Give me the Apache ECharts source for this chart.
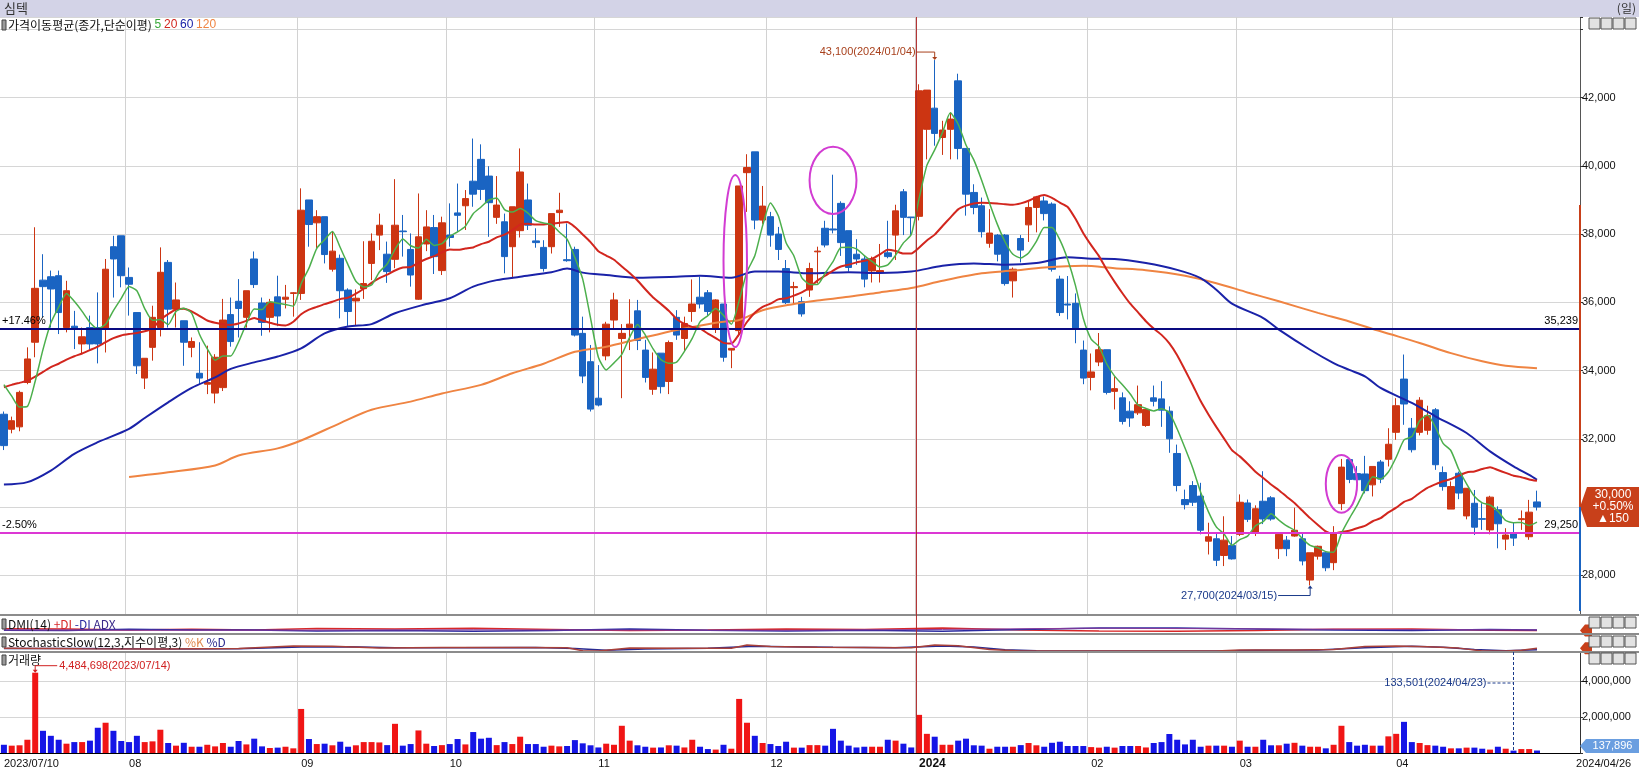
<!DOCTYPE html>
<html><head><meta charset="utf-8">
<script src="https://cdn.jsdelivr.net/npm/echarts@6/dist/echarts.min.js"></script>
<style>html,body{margin:0;padding:0;background:#fff}#c{width:1639px;height:772px}</style>
</head><body><div id="c"></div><script>
// ---------- DATA ----------
const tradingDays = [
 ['2023/07', [10,11,12,13,14,17,18,19,20,21,24,25,26,27,28,31]],
 ['2023/08', [1,2,3,4,7,8,9,10,11,14,16,17,18,21,22,23,24,25,28,29,30,31]],
 ['2023/09', [1,4,5,6,7,8,11,12,13,14,15,18,19,20,21,22,25,26,27]],
 ['2023/10', [4,5,6,10,11,12,13,16,17,18,19,20,23,24,25,26,27,30,31]],
 ['2023/11', [1,2,3,6,7,8,9,10,13,14,15,16,17,20,21,22,23,24,27,28,29,30]],
 ['2023/12', [1,4,5,6,7,8,11,12,13,14,15,18,19,20,21,22,26,27,28]],
 ['2024/01', [2,3,4,5,8,9,10,11,12,15,16,17,18,19,22,23,24,25,26,29,30,31]],
 ['2024/02', [1,2,5,6,7,8,13,14,15,16,19,20,21,22,23,26,27,28,29]],
 ['2024/03', [4,5,6,7,8,11,12,13,14,15,18,19,20,21,22,25,26,27,28,29]],
 ['2024/04', [1,2,3,4,5,8,9,11,12,15,16,17,18,19,22,23,24,25,26]]
];
const opens = [32720,32280,32350,33650,34830,36650,36750,36780,35260,35300,
34780,35260,35260,35220,37630,37950,36730,35700,33780,34680,
35260,37170,35800,35460,34680,33920,33600,33340,33500,35640,
36030,35560,37270,35980,35560,36160,36090,36260,36260,39000,
38330,38510,36970,37290,36360,36040,36400,37140,37970,37410,
37260,38090,37550,36090,37710,38190,36930,37970,38620,38830,
39550,40190,39700,38490,38360,37630,38100,39000,37800,37610,
37630,38630,37250,37550,35090,34260,33190,34430,35480,34940,
35260,35750,34600,33450,34510,33680,35560,34940,35730,36150,
36280,35210,35950,34600,35170,39800,40410,38410,38510,38000,
36990,36430,36020,36360,37480,38170,38150,38900,38100,37410,
37270,36920,36880,37450,37970,39240,38500,38520,41070,41690,
40830,41070,42490,40510,39220,38830,37730,37970,37970,36630,
37870,38270,38780,38970,38880,36680,35950,35970,34600,33800,
34250,34610,33390,33200,32810,32760,32390,33200,33170,32810,
31570,30220,30630,30320,29000,29070,28580,28870,29200,30120,
29240,30170,30270,28780,29030,29150,29070,27860,28560,28660,
28370,30100,31390,30980,30970,30650,31320,31400,32190,33750,
32310,32190,32250,32850,31010,29940,30990,29740,30110,29660,
29330,29920,29060,29250,29630,29130,30150];
const highs = [32800,32650,33410,34680,38200,37410,36930,36930,36630,35750,
35260,35610,36290,37270,37950,37950,37020,35700,34360,35900,
37610,37240,36580,35460,34970,34830,34730,34480,36100,36140,
36680,36340,37490,36140,36100,36780,36510,36300,39340,39000,
38700,38510,38070,37400,36410,36380,37790,38020,38600,37780,
39610,38560,38020,39190,38700,38560,38510,38900,39480,39290,
40800,40630,39990,39700,38600,38800,40510,39480,38170,37820,
38600,39210,38310,37630,35580,34750,34160,35430,36280,35360,
36090,36070,34900,34530,34510,34880,35770,35580,36670,36750,
36360,36090,35950,34650,39410,40340,40410,39410,38650,38210,
37240,36600,36160,37160,37630,38390,39740,38960,38100,37850,
37360,37340,37710,38390,38860,39320,38500,42390,42220,43100,
41320,41560,42700,40510,39460,39070,38730,38000,38000,37020,
37970,38960,39120,39100,38930,36780,36770,36260,34880,34500,
35100,34610,33830,33360,33100,33560,32860,33560,33690,32950,
31830,30510,30760,30710,29540,29240,29730,29150,30370,30220,
30050,31050,30320,29240,29150,29980,29240,28660,28870,28710,
29440,31410,31440,31200,31500,31190,31380,32310,33190,34470,
32610,33220,32970,32900,31190,30750,31040,30550,30500,30110,
30330,30020,29380,29550,29900,30210,30480];
const lows = [31670,32160,32220,33600,34390,35560,35260,35070,35120,34630,
34480,34600,34210,34530,36140,36440,35610,33900,33460,34290,
35000,35260,35260,34140,34390,33600,33310,33040,33400,34700,
34970,35260,36420,35020,35120,35300,35820,35580,36070,37630,
37580,37140,36900,35530,35310,35310,36100,36650,37530,36570,
37000,37340,36460,36070,37500,36830,36800,37630,38070,38120,
38800,39000,37920,38300,36850,36700,37900,38120,37600,36900,
37430,38210,37190,35000,33630,32800,32950,34300,35190,33190,
34600,34600,33650,33290,33330,33310,34900,34550,35430,35820,
35600,35100,34260,34070,35000,38650,38140,38300,37630,37240,
35950,35920,35580,36160,36550,37610,38020,37360,36900,37100,
36440,36580,36580,37290,37240,37970,37950,38400,40190,40590,
40320,40190,40190,38540,38580,37900,37600,37200,36490,36140,
37170,37770,38050,38400,36900,35600,35500,34800,33600,33420,
34130,33300,32860,32420,32350,32700,32350,32950,32350,31590,
30460,29930,30030,29200,28610,28270,28270,28460,29150,29560,
29150,29500,29600,28480,28560,29130,28290,27700,28460,28120,
28150,29910,30700,30700,30400,30310,30700,31190,31970,32410,
31600,32100,32120,31090,30480,29940,30230,29640,29180,29330,
29200,28790,28740,28860,29330,29040,29900];
const closes = [31800,32530,33360,34340,36410,36460,36390,35700,36340,35250,
34990,34780,34780,36970,37270,36780,36530,34140,34360,35560,
36880,35800,36070,34830,34850,33780,33650,34390,35480,34850,
35820,36340,36520,35410,36000,35600,36150,36280,38700,38280,
38510,37400,37500,36340,35730,36120,36550,37790,38260,36900,
38260,38070,36800,37920,38210,37340,38330,37900,38550,39040,
39170,39310,38920,38850,37340,38800,39820,38260,37750,36990,
38600,38700,37220,35040,33840,32870,32990,35360,36070,35090,
35360,34880,33800,34040,33530,34820,35040,35380,35950,35950,
35730,36070,34390,34650,39410,39950,38410,38820,37970,37550,
35990,36460,35660,36990,37500,37680,38120,37750,37020,37270,
36680,37270,36930,37340,38680,38490,38480,42200,42220,40950,
41050,41370,40510,39170,38780,38070,38030,37410,36550,36970,
37530,38780,39090,38600,36970,35700,35920,35250,33780,33960,
34610,33360,33470,32510,32610,33000,32860,33100,32840,32000,
30630,30070,30140,29320,29130,28440,29030,28480,30140,29640,
29950,29650,29650,29200,28780,29320,28420,28660,28850,28220,
29240,31170,30810,30800,30480,31190,30820,31840,32970,33020,
31680,33130,32680,31240,30600,30600,30410,30550,29410,29640,
30290,29510,29180,29090,29660,29850,30000];
const volumes = [460000,410000,430000,740000,4484698,1240000,960000,740000,520000,610000,
610000,690000,1410000,1690000,1240000,670000,610000,960000,610000,650000,
1300000,560000,410000,570000,350000,350000,460000,370000,560000,350000,
670000,480000,800000,370000,280000,300000,350000,260000,2460000,780000,
500000,520000,430000,630000,350000,430000,610000,610000,590000,440000,
1630000,410000,500000,1260000,520000,390000,440000,500000,780000,480000,
1170000,800000,850000,440000,610000,500000,910000,500000,500000,350000,
410000,370000,390000,720000,540000,430000,310000,520000,460000,1520000,
690000,430000,350000,300000,310000,430000,410000,310000,740000,350000,
220000,190000,460000,240000,3020000,1690000,960000,560000,500000,390000,
630000,300000,300000,440000,440000,410000,1350000,690000,410000,310000,
350000,350000,350000,740000,690000,520000,310000,2130000,1070000,910000,
460000,460000,690000,800000,430000,410000,240000,350000,350000,350000,
440000,560000,430000,350000,570000,630000,390000,390000,390000,330000,
300000,350000,300000,390000,390000,390000,310000,560000,610000,1060000,
740000,480000,740000,350000,410000,410000,410000,350000,690000,350000,
350000,740000,430000,430000,520000,570000,410000,350000,350000,260000,
460000,1520000,610000,410000,460000,410000,410000,930000,1070000,1740000,
610000,560000,440000,410000,350000,260000,260000,300000,300000,240000,
190000,350000,240000,133501,220000,220000,137896];
// moving-average values before enough in-chart history exists
const ma5Lead = [33590, 33250, 32930, 32950];
const ma20Lead = [33510,33580,33640,33700,33820,33960,34100,34200,34320,34420,
34500,34600,34700,34830,34950,35030,35070,35100,35150];
// MA60 / MA120: [trading-day index, value]
const ma60Read = [[0,30660],[3,30730],[6,31070],[9,31560],[12,31900],[16,32290],[18,32610],[21,33070],[24,33490],[27,33800],[29,34050],[32,34240],[35,34410],[38,34650],[41,35090],[44,35290],[47,35360],[50,35680],[54,35950],[57,36120],[60,36460],[63,36650],[66,36750],[70,36880],[72,36990],[74,36870],[77,36800],[81,36720],[86,36750],[89,36780],[93,36720],[96,36900],[99,36900],[103,36850],[108,36880],[112,36860],[116,36900],[120,37070],[124,37140],[128,37100],[132,37150],[136,37320],[139,37280],[142,37270],[146,37150],[150,36950],[153,36710],[155,36370],[157,35960],[161,35540],[163,35200],[167,34610],[170,34220],[172,34020],[174,33830],[176,33490],[180,33050],[183,32660],[187,32170],[190,31630],[193,31190],[195,30940],[196,30800]];
const ma120Read = [[16,30880],[21,31020],[27,31220],[30,31510],[35,31720],[38,31950],[43,32460],[47,32850],[52,33090],[56,33330],[61,33580],[65,33920],[69,34200],[73,34550],[77,34700],[81,34920],[86,35190],[90,35360],[92,35430],[94,35480],[97,35770],[101,35950],[104,36050],[108,36160],[112,36290],[116,36420],[120,36630],[125,36850],[129,36930],[133,37020],[138,37070],[142,37000],[146,36940],[151,36780],[155,36560],[159,36290],[163,36030],[168,35690],[172,35440],[176,35150],[181,34810],[185,34510],[189,34270],[192,34140],[196,34070]];
// DMI(14) and Stochastic panes, rough reads [index, value]
const plusDI = [[0,25],[8,24],[16,18],[24,22],[32,18],[40,26],[50,24],[60,28],[70,20],[80,14],[90,18],[100,24],[110,20],[120,30],[130,18],[140,12],[150,10],[160,14],[170,22],[180,24],[190,16],[196,14]];
const minusDI = [[0,16],[8,15],[16,22],[24,18],[32,18],[40,12],[50,14],[60,10],[70,14],[80,24],[90,16],[100,12],[110,16],[120,10],[130,20],[140,30],[150,30],[160,24],[170,18],[180,14],[190,20],[196,18]];
const adxLine = [[0,18],[20,16],[40,17],[60,19],[80,17],[100,16],[120,21],[138,28],[141,28],[160,24],[180,20],[196,18]];
const stochK = [[0,17],[10,14],[20,12],[30,15],[37,31],[42,29],[48,18],[56,22],[66,22],[72,20],[74,2],[76,0],[80,18],[88,17],[93,17],[95,37],[98,28],[104,24],[110,22],[116,20],[119,37],[122,33],[126,10],[130,0],[135,0],[145,0],[155,0],[158,6],[165,6],[170,10],[174,28],[178,31],[182,27],[186,18],[189,0],[192,0],[194,5],[196,17]];
const stochD = [[0,15],[10,15],[20,13],[30,14],[38,25],[44,27],[50,20],[58,21],[68,22],[73,16],[77,4],[82,12],[90,17],[96,30],[100,27],[106,23],[114,21],[120,32],[124,25],[128,8],[132,1],[140,0],[156,0],[160,4],[168,6],[174,20],[180,30],[184,24],[188,10],[192,2],[196,8]];
// reference lines and annotations
const levelHigh = 35239, levelHighPct = '+17.46%';
const levelLow = 29250, levelLowPct = '-2.50%';
const lastChange = '+0.50%', lastDiff = '▲150';
const axisRedTop = 38850, axisBlueBottom = 26950;
const ellipses = [ {i0: 92.0, i1: 94.75, p0: 34690, p1: 39730}, {i0: 103.3, i1: 108.8, p0: 38590, p1: 40560}, {i0: 169.0, i1: 173.0, p0: 29835, p1: 31525} ];

// ---------- BUILD ----------
const dates = [];
tradingDays.forEach(([m, ds]) => ds.forEach(d => dates.push(m + '/' + String(d).padStart(2, '0'))));
const N = dates.length;
const cats = dates.concat(['_p1','_p2','_p3','_p4','_p5']);
const monthStarts = [];
dates.forEach((d, i) => { if (i > 0 && d.slice(0, 7) !== dates[i - 1].slice(0, 7)) monthStarts.push(i); });
const msSet = new Set(monthStarts);
const labelSet = new Set([0, ...monthStarts, cats.length - 1]);
function sma(n, lead) {
  return closes.map((c, i) => {
    if (i < n - 1) return lead[i];
    let s = 0; for (let k = i - n + 1; k <= i; k++) s += closes[k];
    return Math.round(s / n);
  });
}
const ma5 = sma(5, ma5Lead), ma20 = sma(20, ma20Lead);
const candleData = opens.map((o, i) => [o, closes[i], lows[i], highs[i]]);
const isUp = i => closes[i] > opens[i] || (closes[i] === opens[i] && i > 0 && closes[i] >= closes[i - 1]);
const UP = '#cc3512', DOWN = '#1a64c2', VUP = '#f01515', VDOWN = '#1515e6';
const volData = volumes.map((v, i) => ({ value: v, itemStyle: { color: isUp(i) ? VUP : VDOWN } }));
const fmt = v => v.toLocaleString('en-US');
const FN = '"Liberation Sans", Arial, sans-serif';
const FK = '"Noto Sans CJK KR", "Noto Sans", sans-serif';
const GRID_R = 59;

const mkX = (gi, extra) => Object.assign({ type: 'category', gridIndex: gi, data: cats, boundaryGap: true,
  axisLine: { show: false }, axisTick: { show: false }, axisLabel: { show: false }, splitLine: { show: false } }, extra || {});
const monthSplit = { show: true, interval: i => msSet.has(i), lineStyle: { color: '#d2d2d2', width: 1 } };

const option = {
  animation: false,
  backgroundColor: '#fff',
  grid: [
    { left: 0, right: GRID_R, top: 17, height: 598 },
    { left: 0, right: GRID_R, top: 616, height: 17 },
    { left: 0, right: GRID_R, top: 635, height: 16 },
    { left: 0, right: GRID_R, top: 652, height: 101 }
  ],
  xAxis: [
    mkX(0, { splitLine: monthSplit }),
    mkX(1), mkX(2),
    mkX(3, { splitLine: monthSplit, axisLine: { show: true, onZero: false, lineStyle: { color: '#000', width: 1 } },
      axisLabel: { show: true, interval: i => labelSet.has(i), align: 'left', margin: 5, fontSize: 11, color: '#111', fontFamily: FN,
        formatter: (v, idx) => {
          if (idx === 0) return dates[0];
          if (idx === cats.length - 1) return dates[N - 1];
          const d = dates[idx]; const m = d.slice(5, 7);
          return m === '01' ? '{y|' + d.slice(0, 4) + '}' : m;
        },
        rich: { y: { fontWeight: 'bold', fontSize: 12, fontFamily: FN, color: '#111' } } } })
  ],
  yAxis: [
    { type: 'value', gridIndex: 0, position: 'right', min: 26836, max: 44362, splitNumber: 9,
      axisLine: { show: true, lineStyle: { color: '#555', width: 1 } },
      axisTick: { show: true, length: 3, lineStyle: { color: '#333' } },
      axisLabel: { margin: 2, fontSize: 11, color: '#111', fontFamily: FN, formatter: v => (v % 2000 === 0 && v < 44000) ? fmt(v) : '' },
      splitLine: { show: true, lineStyle: { color: '#d6d6d6' } } },
    { type: 'value', gridIndex: 1, min: 0, max: 100, show: false },
    { type: 'value', gridIndex: 2, min: 0, max: 100, show: false },
    { type: 'value', gridIndex: 3, position: 'right', min: 0, max: 5640000, splitNumber: 3,
      axisLine: { show: true, lineStyle: { color: '#333', width: 1 } },
      axisTick: { show: true, length: 3, lineStyle: { color: '#333' } },
      axisLabel: { margin: 2, fontSize: 11, color: '#111', fontFamily: FN, formatter: v => (v > 0 && v % 2000000 === 0) ? fmt(v) : '' },
      splitLine: { show: true, lineStyle: { color: '#d6d6d6' } } }
  ],
  series: [
    { type: 'candlestick', xAxisIndex: 0, yAxisIndex: 0, data: candleData, barWidth: 7, z: 2,
      itemStyle: { color: UP, color0: DOWN, borderColor: UP, borderColor0: DOWN, borderWidth: 1 },
      markLine: { symbol: 'none', silent: true, z: 4, data: [
        { yAxis: levelHigh, lineStyle: { color: '#0a0a80', width: 2, type: 'solid' }, label: { show: true, position: 'insideStartTop', formatter: levelHighPct, color: '#000', fontSize: 11, fontFamily: FN, distance: 2 } },
        { yAxis: levelHigh, lineStyle: { color: '#0a0a80', width: 2, type: 'solid' }, label: { show: true, position: 'insideEndTop', formatter: fmt(levelHigh), color: '#000', fontSize: 11, fontFamily: FN, distance: 2 } },
        { yAxis: levelLow, lineStyle: { color: '#dc38d4', width: 2, type: 'solid' }, label: { show: true, position: 'insideStartTop', formatter: levelLowPct, color: '#000', fontSize: 11, fontFamily: FN, distance: 2 } },
        { yAxis: levelLow, lineStyle: { color: '#dc38d4', width: 2, type: 'solid' }, label: { show: true, position: 'insideEndTop', formatter: fmt(levelLow), color: '#000', fontSize: 11, fontFamily: FN, distance: 2 } }
      ] } },
    { type: 'line', name: 'MA120', xAxisIndex: 0, yAxisIndex: 0, data: ma120Read, symbol: 'none', smooth: 0.3, z: 3, lineStyle: { color: '#ef8442', width: 2 } },
    { type: 'line', name: 'MA60', xAxisIndex: 0, yAxisIndex: 0, data: ma60Read, symbol: 'none', smooth: 0.3, z: 3, lineStyle: { color: '#1a22a8', width: 2 } },
    { type: 'line', name: 'MA20', xAxisIndex: 0, yAxisIndex: 0, data: ma20, symbol: 'none', smooth: 0.2, z: 3, lineStyle: { color: '#d2261e', width: 2 } },
    { type: 'line', name: 'MA5', xAxisIndex: 0, yAxisIndex: 0, data: ma5, symbol: 'none', smooth: 0.2, z: 3, lineStyle: { color: '#4caf4c', width: 1.5 } },
    { type: 'line', xAxisIndex: 1, yAxisIndex: 1, data: plusDI, symbol: 'none', lineStyle: { color: '#d82828', width: 1.5 } },
    { type: 'line', xAxisIndex: 1, yAxisIndex: 1, data: minusDI, symbol: 'none', lineStyle: { color: '#2a2aa0', width: 1.5 } },
    { type: 'line', xAxisIndex: 1, yAxisIndex: 1, data: adxLine, symbol: 'none', lineStyle: { color: '#8a3a9a', width: 1 } },
    { type: 'line', xAxisIndex: 2, yAxisIndex: 2, data: stochD, symbol: 'none', lineStyle: { color: '#2a2a90', width: 1.5 } },
    { type: 'line', xAxisIndex: 2, yAxisIndex: 2, data: stochK, symbol: 'none', lineStyle: { color: '#a8403a', width: 1.5 } },
    { type: 'bar', xAxisIndex: 3, yAxisIndex: 3, data: volData, barWidth: 6 }
  ]
};

const chart = echarts.init(document.getElementById('c'));
chart.setOption(option);

// ---------- decorations computed through the chart's own scales ----------
const P = (i, v) => chart.convertToPixel({ xAxisIndex: 0, yAxisIndex: 0 }, [i, v]);
const V = (i, v) => chart.convertToPixel({ xAxisIndex: 3, yAxisIndex: 3 }, [i, v]);
const bw = P(1, 30000)[0] - P(0, 30000)[0];
const axisX = P(cats.length - 1, 30000)[0] + bw / 2;
const priceTop = P(0, 44362)[1], priceBot = P(0, 26836)[1];
const volTop = V(0, 5640000)[1], volBot = V(0, 0)[1];
const stoTop = chart.convertToPixel({ xAxisIndex: 2, yAxisIndex: 2 }, [0, 100])[1];
const W = 1639;
const g = [];
const T = (x, y, text, st) => g.push({ type: 'text', x, y, silent: true, z: 50, style: Object.assign({ text, fill: '#111', fontSize: 12, fontFamily: FK, verticalAlign: 'middle', align: 'left' }, st || {}) });
const L = (x1, y1, x2, y2, st) => g.push({ type: 'line', silent: true, z: 50, shape: { x1, y1, x2, y2 }, style: Object.assign({ stroke: '#000', lineWidth: 1 }, st || {}) });

// header band
g.push({ type: 'rect', silent: true, z: 40, shape: { x: 0, y: 0, width: W, height: priceTop }, style: { fill: '#d3d3e7' } });
T(4, 8.5, '심텍', { fontSize: 13, fill: '#333' });
T(W - 3, 8.5, '(일)', { align: 'right', fontSize: 12, fill: '#333' });

// pane separators
[priceBot, stoTop - 1, volTop].forEach(y => L(0, y, W, y, { stroke: '#8c8c8c', lineWidth: 2 }));

// 2024 year line
const yx = P(monthStarts[5], 30000)[0] - bw / 3;
L(yx, priceTop, yx, volBot, { stroke: '#b02a2a', lineWidth: 1 });

// pane legends
const icon = (y) => g.push({ type: 'rect', silent: true, z: 50, shape: { x: 2, y: y - 5, width: 4, height: 10 }, style: { fill: '#9a9a9a', stroke: '#444', lineWidth: 1 } });
icon(25); icon(624); icon(642); icon(660);
T(8, 25, '{k|가격이동평균(종가,단순이평)} {g|5} {r|20} {b|60} {o|120}', { rich: {
  k: { fill: '#111', fontSize: 12, fontFamily: FK }, g: { fill: '#3aa83a', fontSize: 12, fontFamily: FN },
  r: { fill: '#d2261e', fontSize: 12, fontFamily: FN }, b: { fill: '#1a22a8', fontSize: 12, fontFamily: FN }, o: { fill: '#ef8442', fontSize: 12, fontFamily: FN } } });
T(8, 624, '{k|DMI(14)} {r|+DI} {b|-DI} {p|ADX}', { rich: { k: { fill: '#111', fontSize: 12, fontFamily: FK }, r: { fill: '#d82828', fontSize: 12, fontFamily: FK }, b: { fill: '#2a2aa0', fontSize: 12, fontFamily: FK }, p: { fill: '#3a2a8a', fontSize: 12, fontFamily: FK } } });
T(8, 642, '{k|StochasticSlow(12,3,지수이평,3)} {o|%K} {b|%D}', { rich: { k: { fill: '#111', fontSize: 12, fontFamily: FK }, o: { fill: '#e08a50', fontSize: 12, fontFamily: FK }, b: { fill: '#2a2a90', fontSize: 12, fontFamily: FK } } });
T(8, 660, '거래량', { fontSize: 12 });

// axis colour bar on price axis
const yLast = P(0, closes[N - 1])[1];
L(axisX, P(0, axisRedTop)[1], axisX, yLast, { stroke: '#c8401a', lineWidth: 2 });
L(axisX, yLast, axisX, P(0, axisBlueBottom)[1], { stroke: '#1a64c2', lineWidth: 2 });

// last price tag
g.push({ type: 'polygon', silent: true, z: 45, shape: { points: [[axisX, yLast], [axisX + 7, yLast - 20], [W, yLast - 20], [W, yLast + 20], [axisX + 7, yLast + 20]] }, style: { fill: '#c8401a' } });
T((axisX + 7 + W) / 2, yLast - 12, fmt(closes[N - 1]), { align: 'center', fill: '#fff', fontSize: 12, fontFamily: FN });
T((axisX + 7 + W) / 2, yLast, lastChange, { align: 'center', fill: '#fff', fontSize: 12, fontFamily: FN });
T((axisX + 7 + W) / 2, yLast + 12, lastDiff, { align: 'center', fill: '#fff', fontSize: 12, fontFamily: FN });

// last volume tag
const yv = Math.min(V(0, volumes[N - 1])[1], volBot - 7);
g.push({ type: 'polygon', silent: true, z: 45, shape: { points: [[axisX, yv], [axisX + 6, yv - 7], [W, yv - 7], [W, yv + 7], [axisX + 6, yv + 7]] }, style: { fill: '#6a9ee0' } });
T((axisX + 6 + W) / 2, yv, fmt(volumes[N - 1]), { align: 'center', fill: '#fff', fontSize: 11, fontFamily: FN });

// small tags on DMI / stochastic axes
[[1, plusDI[plusDI.length - 1][1]], [2, stochK[stochK.length - 1][1]]].forEach(([ax, v]) => {
  const yy = chart.convertToPixel({ xAxisIndex: ax, yAxisIndex: ax }, [0, v])[1];
  g.push({ type: 'polygon', silent: true, z: 45, shape: { points: [[axisX, yy], [axisX + 5, yy - 6], [axisX + 12, yy - 6], [axisX + 12, yy + 6], [axisX + 5, yy + 6]] }, style: { fill: '#c8401a' } });
});

// pane buttons
[priceTop + 1, 617, 636, volTop + 1].forEach(y => {
  ['L', 'I', '□', 'X'].forEach((s, k) => {
    const x = 1589 + k * 12;
    g.push({ type: 'rect', silent: true, z: 60, shape: { x, y, width: 11, height: 11 }, style: { fill: '#e2e2e2', stroke: '#555', lineWidth: 1 } });
    T(x + 5.5, y + 6, s, { align: 'center', fontSize: 9, fontWeight: 'bold', fill: '#111', fontFamily: FN });
  });
});

// high / low annotations
const hiIdx = highs.indexOf(Math.max(...highs));
const [hx, hy] = P(hiIdx, highs[hiIdx]);
T(hx - 19, hy - 8, fmt(highs[hiIdx]) + '(' + dates[hiIdx] + ')', { align: 'right', fill: '#a8401c', fontSize: 11, fontFamily: FN });
L(hx - 18, hy - 8, hx, hy - 8, { stroke: '#a8401c' });
L(hx, hy - 8, hx, hy - 1, { stroke: '#a8401c' });
g.push({ type: 'polygon', silent: true, z: 50, shape: { points: [[hx - 2.5, hy - 3], [hx + 2.5, hy - 3], [hx, hy]] }, style: { fill: '#a8401c' } });

const loIdx = lows.indexOf(Math.min(...lows));
const [lx, ly] = P(loIdx, lows[loIdx]);
T(lx - 33, ly + 10, fmt(lows[loIdx]) + '(' + dates[loIdx] + ')', { align: 'right', fill: '#1a3a8a', fontSize: 11, fontFamily: FN });
L(lx - 32, ly + 10, lx, ly + 10, { stroke: '#1a3a8a' });
L(lx, ly + 10, lx, ly + 1, { stroke: '#1a3a8a' });
g.push({ type: 'polygon', silent: true, z: 50, shape: { points: [[lx - 2.5, ly + 3], [lx + 2.5, ly + 3], [lx, ly]] }, style: { fill: '#1a3a8a' } });

// volume annotations
const vmIdx = volumes.indexOf(Math.max(...volumes));
const [vx, vy] = V(vmIdx, volumes[vmIdx]);
L(vx, vy - 7, vx + 22, vy - 7, { stroke: '#d02020' });
L(vx, vy - 7, vx, vy - 1, { stroke: '#d02020' });
g.push({ type: 'polygon', silent: true, z: 50, shape: { points: [[vx - 2.5, vy - 3], [vx + 2.5, vy - 3], [vx, vy]] }, style: { fill: '#d02020' } });
T(vx + 24, vy - 7, fmt(volumes[vmIdx]) + '(' + dates[vmIdx] + ')', { fill: '#d02020', fontSize: 11, fontFamily: FN });

const vlIdx = volumes.indexOf(Math.min(...volumes));
const [wx, wy] = V(vlIdx, volumes[vlIdx]);
const wty = volTop + 31;
L(wx, volTop, wx, wy, { stroke: '#1a3a8a', lineDash: [3, 2] });
L(wx - 26, wty, wx, wty, { stroke: '#1a3a8a', lineDash: [3, 2] });
T(wx - 27, wty, fmt(volumes[vlIdx]) + '(' + dates[vlIdx] + ')', { align: 'right', fill: '#1a3a8a', fontSize: 11, fontFamily: FN });

// highlight ellipses
ellipses.forEach(e => {
  const a = P(e.i0, e.p1), b = P(e.i1, e.p0);
  g.push({ type: 'ellipse', silent: true, z: 48, shape: { cx: (a[0] + b[0]) / 2, cy: (a[1] + b[1]) / 2, rx: (b[0] - a[0]) / 2, ry: (b[1] - a[1]) / 2 }, style: { fill: 'none', stroke: '#d23cd2', lineWidth: 2 } });
});

chart.setOption({ graphic: g });
</script></body></html>
